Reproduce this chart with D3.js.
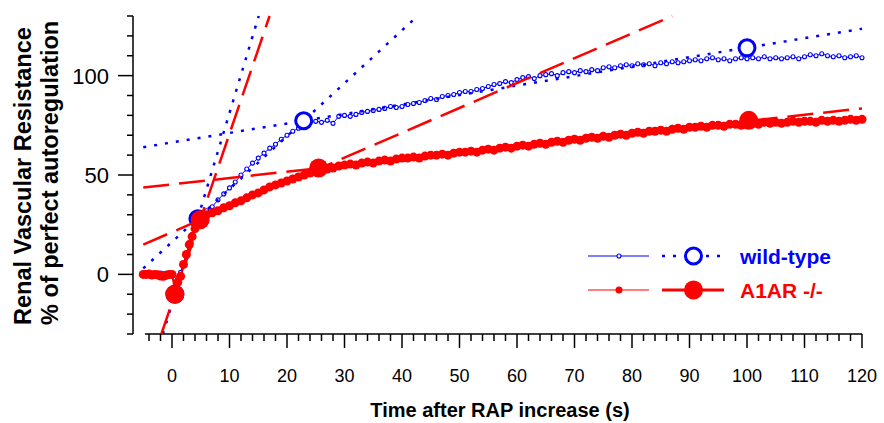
<!DOCTYPE html>
<html>
<head>
<meta charset="utf-8">
<script src="https://cdn.jsdelivr.net/npm/d3@7/dist/d3.min.js"></script>
<style>
body { margin: 0; background: #fff; }
text { font-family: "Liberation Sans", Arial, sans-serif; }
</style>
</head>
<body>
<svg></svg>
<script>
// sampling times: every 0.5 s up to 6 s, then every second
var times = d3.range(-5, 6.01, 0.5).concat(d3.range(7, 120.01, 1));

// wild-type, % of perfect autoregulation
var wildType = [
  0.5, 0.8, 0.4, 0.3, 0.6, 0.5, 0.7, 0.3, 0.5, 0.6, 0.4,
  -6, -2, 1, 5, 9, 14, 20, 25, 28, 30, 31, 32,
  34, 37.5, 40.5, 43.5, 46.5, 50, 53, 56, 58.5, 61, 63.5, 65.5, 68, 70,
  72, 73.5, 75.5, 76.5, 77, 76.5, 77.5, 76, 79.5, 80,
  79.5, 80.5, 81.5, 82, 82.5, 83, 83.5, 84.5, 84, 84.5,
  85.5, 86, 86.5, 87.5, 88.5, 88, 89.5, 90, 90.5, 91.5,
  92, 92, 93, 93.5, 94.5, 95.5, 96, 97, 96.5, 98,
  99, 99.5, 98.5, 100, 100.5, 101, 100, 101.5, 102, 101.5,
  102.5, 102, 103, 102.5, 104, 104.5, 104, 105, 105.5, 105,
  106, 105.5, 106, 105, 106.5, 106, 107, 106.5, 107, 107.5,
  108, 107.5, 108.5, 109, 108, 108.5, 107.5, 108.5, 109, 108.5,
  109, 108.5, 109.5, 108.5, 109, 108.5, 109, 109.5, 108.5, 109.5,
  110.5, 110, 111, 110, 109.5, 110, 109, 109.5, 110, 109
];

// A1AR -/-
var a1ar = [
  0, 0, 0.2, -0.3, 0, -0.2, -0.8, -1, -0.5, 0, 0,
  -9, -4, -1, 5, 10, 15, 19, 23, 26, 28, 29, 30,
  31, 32, 33.5, 34.5, 36, 37, 38.5, 40, 41, 42.5, 44, 45, 46, 47,
  48, 49, 50, 51, 52, 52.5, 53, 53.5, 54.5, 55,
  55.5, 55, 56, 56.5, 56, 57, 57.5, 57, 58, 58.5,
  58.5, 59, 58.5, 59.5, 60, 60, 60.5, 60, 61, 61.5,
  61.5, 62, 61.5, 62.5, 63, 62.5, 63.5, 64, 63.5, 64.5,
  65, 64.5, 65.5, 66, 65.5, 66.5, 67, 66.5, 67.5, 68,
  67.5, 68.5, 69, 68.5, 69.5, 69, 70, 70.5, 70, 71,
  71.5, 71, 72, 72, 72.5, 72, 73, 73.5, 73, 74,
  74, 74.5, 74, 75, 75, 74.5, 75.5, 75.5, 75, 76,
  76, 75.5, 76.5, 76, 76.5, 76, 76.5, 77, 76.5, 77,
  77, 76.5, 77.5, 77, 77.5, 77, 77.5, 78, 77.5, 78
];

// fitted regression lines (start and end point of each)
var wildTypeFits = [
  [[-1.58, -30], [15.08, 130]],
  [[-5, 3], [42.7, 130]],
  [[-5, 64], [120, 123.6]]
];
var a1arFits = [
  [[-1.85, -30], [16.97, 130]],
  [[-5, 15], [87, 130]],
  [[-5, 43.7], [120, 83.5]]
];

// break points (line intersections)
var wildTypeBreaks = [[0.5, -10], [4.5, 28], [22.9, 77.3], [100, 114]];
var a1arBreaks = [[0.5, -10], [4.9, 27.5], [25.5, 53.5], [100.3, 77.5]];

var xTickLabels = [0, 10, 20, 30, 40, 50, 60, 70, 80, 90, 100, 110, 120];
var yTickLabels = [0, 50, 100];

var width = 884;
var height = 423;
var blue = "#0000ff";
var red = "#ff0000";

var svg = d3.select("svg")
            .attr("width", width)
            .attr("height", height);

var xScale = d3.scaleLinear().domain([-5, 120]).range([143.25, 862]);
var yScale = d3.scaleLinear().domain([-30, 130]).range([334, 16]);

var axisX = 133;   // y axis sits left of the data
var axisY = 334;

// y axis
svg.append("line")
  .attr("x1", axisX).attr("x2", axisX)
  .attr("y1", yScale(-30)).attr("y2", yScale(130))
  .attr("stroke", "#000").attr("stroke-width", 1.5);

svg.selectAll(".ytick")
  .data(d3.range(-30, 131, 10))
  .enter()
  .append("line")
  .attr("x1", axisX)
  .attr("x2", function(d) { return yTickLabels.indexOf(d) >= 0 ? axisX - 15 : axisX - 6; })
  .attr("y1", function(d) { return yScale(d); })
  .attr("y2", function(d) { return yScale(d); })
  .attr("stroke", "#000").attr("stroke-width", 1.5);

svg.selectAll(".ylabel")
  .data(yTickLabels)
  .enter()
  .append("text")
  .attr("x", axisX - 24)
  .attr("y", function(d) { return yScale(d) + 8; })
  .attr("text-anchor", "end")
  .attr("font-size", "22px")
  .text(function(d) { return d; });

// x axis
svg.append("line")
  .attr("x1", xScale(-4.7)).attr("x2", xScale(120))
  .attr("y1", axisY).attr("y2", axisY)
  .attr("stroke", "#000").attr("stroke-width", 1.5);

svg.selectAll(".xtick")
  .data(d3.range(-4, 121, 2))
  .enter()
  .append("line")
  .attr("x1", function(d) { return xScale(d); })
  .attr("x2", function(d) { return xScale(d); })
  .attr("y1", axisY)
  .attr("y2", function(d) { return xTickLabels.indexOf(d) >= 0 ? axisY + 14 : axisY + 7; })
  .attr("stroke", "#000").attr("stroke-width", 1.5);

svg.selectAll(".xlabel")
  .data(xTickLabels)
  .enter()
  .append("text")
  .attr("x", function(d) { return xScale(d); })
  .attr("y", 382)
  .attr("text-anchor", "middle")
  .attr("font-size", "18px")
  .text(function(d) { return d; });

// axis titles
svg.append("text")
  .attr("x", 500).attr("y", 417)
  .attr("text-anchor", "middle")
  .attr("font-size", "20px").attr("font-weight", "bold")
  .text("Time after RAP increase (s)");

svg.append("text")
  .attr("transform", "translate(31,325) rotate(-90)")
  .attr("font-size", "23.5px").attr("font-weight", "bold")
  .text("Renal Vascular Resistance");

svg.append("text")
  .attr("transform", "translate(58,325) rotate(-90)")
  .attr("font-size", "23.5px").attr("font-weight", "bold")
  .text("% of perfect autoregulation");

var line = d3.line()
  .x(function(d) { return xScale(d[0]); })
  .y(function(d) { return yScale(d[1]); });

function series(values) {
  return times.map(function(t, i) { return [t, values[i]]; });
}

// wild-type data
var wt = series(wildType);
svg.append("path")
  .attr("d", line(wt))
  .attr("fill", "none").attr("stroke", blue).attr("stroke-width", 1);
svg.selectAll(".wtpt")
  .data(wt)
  .enter()
  .append("circle")
  .attr("cx", function(d) { return xScale(d[0]); })
  .attr("cy", function(d) { return yScale(d[1]); })
  .attr("r", 2)
  .attr("fill", "#fff").attr("stroke", blue).attr("stroke-width", 1.1);

svg.selectAll(".wtfit")
  .data(wildTypeFits)
  .enter()
  .append("path")
  .attr("d", function(d) { return line(d); })
  .attr("fill", "none").attr("stroke", blue)
  .attr("stroke-width", 2.5).attr("stroke-dasharray", "3 8");

svg.selectAll(".wtbrk")
  .data(wildTypeBreaks)
  .enter()
  .append("circle")
  .attr("cx", function(d) { return xScale(d[0]); })
  .attr("cy", function(d) { return yScale(d[1]); })
  .attr("r", 8)
  .attr("fill", "#fff").attr("stroke", blue).attr("stroke-width", 3);

// A1AR -/- data
var ko = series(a1ar);
svg.append("path")
  .attr("d", line(ko))
  .attr("fill", "none").attr("stroke", red).attr("stroke-width", 1.5);
svg.selectAll(".kopt")
  .data(ko)
  .enter()
  .append("circle")
  .attr("cx", function(d) { return xScale(d[0]); })
  .attr("cy", function(d) { return yScale(d[1]); })
  .attr("r", 4.5)
  .attr("fill", red);

svg.selectAll(".kofit")
  .data(a1arFits)
  .enter()
  .append("path")
  .attr("d", function(d) { return line(d); })
  .attr("fill", "none").attr("stroke", red)
  .attr("stroke-width", 2.5).attr("stroke-dasharray", "26 10");

svg.selectAll(".kobrk")
  .data(a1arBreaks)
  .enter()
  .append("circle")
  .attr("cx", function(d) { return xScale(d[0]); })
  .attr("cy", function(d) { return yScale(d[1]); })
  .attr("r", 9.5)
  .attr("fill", red);

// legend
var legend = svg.append("g");
var rows = [
  { label: "wild-type", color: blue, y: 256, open: true, dash: "3 8" },
  { label: "A1AR -/-", color: red, y: 290, open: false, dash: "26 10" }
];
rows.forEach(function(r) {
  legend.append("line")
    .attr("x1", 588).attr("x2", 649).attr("y1", r.y).attr("y2", r.y)
    .attr("stroke", r.color).attr("stroke-width", 1);
  legend.append("circle")
    .attr("cx", 619).attr("cy", r.y)
    .attr("r", r.open ? 2 : 3.5)
    .attr("fill", r.open ? "#fff" : r.color)
    .attr("stroke", r.open ? r.color : "none").attr("stroke-width", 1.1);
  legend.append("line")
    .attr("x1", 662).attr("x2", 725).attr("y1", r.y).attr("y2", r.y)
    .attr("stroke", r.color).attr("stroke-width", r.open ? 2.5 : 3)
    .attr("stroke-dasharray", r.dash);
  legend.append("circle")
    .attr("cx", 693.5).attr("cy", r.y)
    .attr("r", r.open ? 8 : 9.5)
    .attr("fill", r.open ? "#fff" : r.color)
    .attr("stroke", r.open ? r.color : "none").attr("stroke-width", 3);
  legend.append("text")
    .attr("x", 740).attr("y", r.y + 8)
    .attr("font-size", "21px").attr("font-weight", "bold")
    .attr("fill", r.color)
    .text(r.label);
});
</script>
</body>
</html>
